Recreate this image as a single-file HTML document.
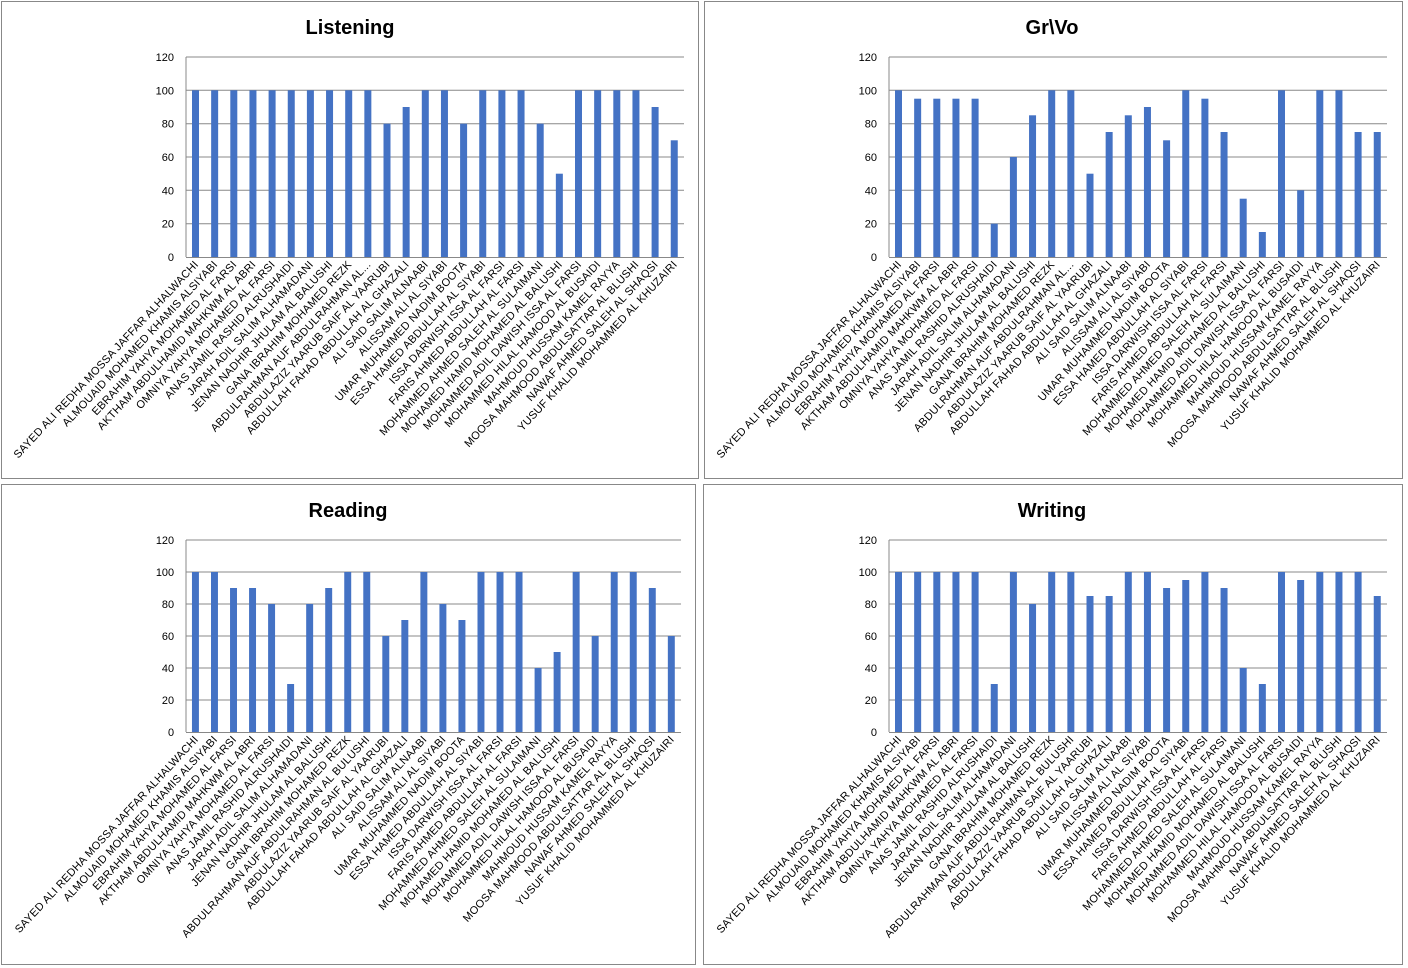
<!DOCTYPE html><html><head><meta charset="utf-8"><style>
body{margin:0;background:#fff;width:1408px;height:968px;overflow:hidden}
svg{display:block;font-family:"Liberation Sans",sans-serif}
.lb text{font-size:11px;letter-spacing:0.25px;text-anchor:end}
.yt{font-size:11px;text-anchor:end}
.tt{font-size:20px;font-weight:bold;text-anchor:middle}
</style></head><body>
<svg width="1408" height="968" xmlns="http://www.w3.org/2000/svg">
<rect x="1.5" y="1.5" width="697" height="477" fill="#fff" stroke="#888"/>
<rect x="704.5" y="1.5" width="698" height="477" fill="#fff" stroke="#888"/>
<rect x="1.5" y="484.5" width="694" height="480" fill="#fff" stroke="#888"/>
<rect x="703.5" y="484.5" width="699" height="480" fill="#fff" stroke="#888"/>
<text class="tt" x="350" y="34">Listening</text>
<text class="tt" x="1052" y="34">Gr\Vo</text>
<text class="tt" x="348" y="517">Reading</text>
<text class="tt" x="1052" y="517">Writing</text>

<!-- Listening -->
<g transform="translate(186,257)">
<g stroke="#888" stroke-width="1"><line x1="0" x2="498" y1="-33.3" y2="-33.3"/><line x1="0" x2="498" y1="-66.7" y2="-66.7"/><line x1="0" x2="498" y1="-100" y2="-100"/><line x1="0" x2="498" y1="-133.3" y2="-133.3"/><line x1="0" x2="498" y1="-166.7" y2="-166.7"/><line x1="0" x2="498" y1="-200" y2="-200"/><line x1="0" x2="0" y1="-200" y2="0"/></g>
<g fill="#4472C4">
<rect x="6" y="-166.7" width="7" height="166.7"/><rect x="25.15" y="-166.7" width="7" height="166.7"/><rect x="44.3" y="-166.7" width="7" height="166.7"/><rect x="63.45" y="-166.7" width="7" height="166.7"/><rect x="82.6" y="-166.7" width="7" height="166.7"/><rect x="101.75" y="-166.7" width="7" height="166.7"/><rect x="120.9" y="-166.7" width="7" height="166.7"/><rect x="140.05" y="-166.7" width="7" height="166.7"/><rect x="159.2" y="-166.7" width="7" height="166.7"/><rect x="178.35" y="-166.7" width="7" height="166.7"/><rect x="197.5" y="-133.3" width="7" height="133.3"/><rect x="216.65" y="-150" width="7" height="150"/><rect x="235.8" y="-166.7" width="7" height="166.7"/><rect x="254.95" y="-166.7" width="7" height="166.7"/><rect x="274.1" y="-133.3" width="7" height="133.3"/><rect x="293.25" y="-166.7" width="7" height="166.7"/><rect x="312.4" y="-166.7" width="7" height="166.7"/><rect x="331.55" y="-166.7" width="7" height="166.7"/><rect x="350.7" y="-133.3" width="7" height="133.3"/><rect x="369.85" y="-83.3" width="7" height="83.3"/><rect x="389" y="-166.7" width="7" height="166.7"/><rect x="408.15" y="-166.7" width="7" height="166.7"/><rect x="427.3" y="-166.7" width="7" height="166.7"/><rect x="446.45" y="-166.7" width="7" height="166.7"/><rect x="465.6" y="-150" width="7" height="150"/><rect x="484.75" y="-116.7" width="7" height="116.7"/>
</g>
<line x1="0" x2="498" y1="0.5" y2="0.5" stroke="#888"/>
<g class="yt"><text x="-12" y="4">0</text><text x="-12" y="-29.3">20</text><text x="-12" y="-62.7">40</text><text x="-12" y="-96">60</text><text x="-12" y="-129.3">80</text><text x="-12" y="-162.7">100</text><text x="-12" y="-196">120</text></g>
<g class="lb">
<text transform="translate(13,8) rotate(-47)">SAYED ALI REDHA MOSSA JAFFAR ALHALWACHI</text>
<text transform="translate(32.15,8) rotate(-47)">ALMOUAID MOHAMED KHAMIS ALSIYABI</text>
<text transform="translate(51.3,8) rotate(-47)">EBRAHIM YAHYA MOHAMED AL FARSI</text>
<text transform="translate(70.45,8) rotate(-47)">AKTHAM ABDULHAMID MAHKWM AL ABRI</text>
<text transform="translate(89.6,8) rotate(-47)">OMNIYA YAHYA MOHAMED AL FARSI</text>
<text transform="translate(108.75,8) rotate(-47)">ANAS JAMIL RASHID ALRUSHAIDI</text>
<text transform="translate(127.9,8) rotate(-47)">JARAH ADIL SALIM ALHAMADANI</text>
<text transform="translate(147.05,8) rotate(-47)">JENAN NADHIR JHULAM AL BALUSHI</text>
<text transform="translate(166.2,8) rotate(-47)">GANA IBRAHIM MOHAMED REZK</text>
<text transform="translate(185.35,8) rotate(-47)">ABDULRAHMAN AUF ABDULRAHMAN AL...</text>
<text transform="translate(204.5,8) rotate(-47)">ABDULAZIZ YAARUB SAIF AL YAARUBI</text>
<text transform="translate(223.65,8) rotate(-47)">ABDULLAH FAHAD ABDULLAH AL GHAZALI</text>
<text transform="translate(242.8,8) rotate(-47)">ALI SAID SALIM ALNAABI</text>
<text transform="translate(261.95,8) rotate(-47)">ALISSAM ALI AL SIYABI</text>
<text transform="translate(281.1,8) rotate(-47)">UMAR MUHAMMED NADIM BOOTA</text>
<text transform="translate(300.25,8) rotate(-47)">ESSA HAMED ABDULLAH AL SIYABI</text>
<text transform="translate(319.4,8) rotate(-47)">ISSA DARWISH ISSA AL FARSI</text>
<text transform="translate(338.55,8) rotate(-47)">FARIS AHMED ABDULLAH AL FARSI</text>
<text transform="translate(357.7,8) rotate(-47)">MOHAMMED AHMED SALEH AL SULAIMANI</text>
<text transform="translate(376.85,8) rotate(-47)">MOHAMED HAMID MOHAMED AL BALUSHI</text>
<text transform="translate(396,8) rotate(-47)">MOHAMMED ADIL DAWISH ISSA AL FARSI</text>
<text transform="translate(415.15,8) rotate(-47)">MOHAMMED HILAL HAMOOD AL BUSAIDI</text>
<text transform="translate(434.3,8) rotate(-47)">MAHMOUD HUSSAM KAMEL RAYYA</text>
<text transform="translate(453.45,8) rotate(-47)">MOOSA MAHMOOD ABDULSATTAR AL BLUSHI</text>
<text transform="translate(472.6,8) rotate(-47)">NAWAF AHMED SALEH AL SHAQSI</text>
<text transform="translate(491.75,8) rotate(-47)">YUSUF KHALID MOHAMMED AL KHUZAIRI</text>
</g>
</g>

<!-- Gr\Vo -->
<g transform="translate(889,257)">
<g stroke="#888" stroke-width="1"><line x1="0" x2="498" y1="-33.3" y2="-33.3"/><line x1="0" x2="498" y1="-66.7" y2="-66.7"/><line x1="0" x2="498" y1="-100" y2="-100"/><line x1="0" x2="498" y1="-133.3" y2="-133.3"/><line x1="0" x2="498" y1="-166.7" y2="-166.7"/><line x1="0" x2="498" y1="-200" y2="-200"/><line x1="0" x2="0" y1="-200" y2="0"/></g>
<g fill="#4472C4">
<rect x="6" y="-166.7" width="7" height="166.7"/><rect x="25.15" y="-158.3" width="7" height="158.3"/><rect x="44.3" y="-158.3" width="7" height="158.3"/><rect x="63.45" y="-158.3" width="7" height="158.3"/><rect x="82.6" y="-158.3" width="7" height="158.3"/><rect x="101.75" y="-33.3" width="7" height="33.3"/><rect x="120.9" y="-100" width="7" height="100"/><rect x="140.05" y="-141.7" width="7" height="141.7"/><rect x="159.2" y="-166.7" width="7" height="166.7"/><rect x="178.35" y="-166.7" width="7" height="166.7"/><rect x="197.5" y="-83.3" width="7" height="83.3"/><rect x="216.65" y="-125" width="7" height="125"/><rect x="235.8" y="-141.7" width="7" height="141.7"/><rect x="254.95" y="-150" width="7" height="150"/><rect x="274.1" y="-116.7" width="7" height="116.7"/><rect x="293.25" y="-166.7" width="7" height="166.7"/><rect x="312.4" y="-158.3" width="7" height="158.3"/><rect x="331.55" y="-125" width="7" height="125"/><rect x="350.7" y="-58.3" width="7" height="58.3"/><rect x="369.85" y="-25" width="7" height="25"/><rect x="389" y="-166.7" width="7" height="166.7"/><rect x="408.15" y="-66.7" width="7" height="66.7"/><rect x="427.3" y="-166.7" width="7" height="166.7"/><rect x="446.45" y="-166.7" width="7" height="166.7"/><rect x="465.6" y="-125" width="7" height="125"/><rect x="484.75" y="-125" width="7" height="125"/>
</g>
<line x1="0" x2="498" y1="0.5" y2="0.5" stroke="#888"/>
<g class="yt"><text x="-12" y="4">0</text><text x="-12" y="-29.3">20</text><text x="-12" y="-62.7">40</text><text x="-12" y="-96">60</text><text x="-12" y="-129.3">80</text><text x="-12" y="-162.7">100</text><text x="-12" y="-196">120</text></g>
<g class="lb">
<text transform="translate(13,8) rotate(-47)">SAYED ALI REDHA MOSSA JAFFAR ALHALWACHI</text>
<text transform="translate(32.15,8) rotate(-47)">ALMOUAID MOHAMED KHAMIS ALSIYABI</text>
<text transform="translate(51.3,8) rotate(-47)">EBRAHIM YAHYA MOHAMED AL FARSI</text>
<text transform="translate(70.45,8) rotate(-47)">AKTHAM ABDULHAMID MAHKWM AL ABRI</text>
<text transform="translate(89.6,8) rotate(-47)">OMNIYA YAHYA MOHAMED AL FARSI</text>
<text transform="translate(108.75,8) rotate(-47)">ANAS JAMIL RASHID ALRUSHAIDI</text>
<text transform="translate(127.9,8) rotate(-47)">JARAH ADIL SALIM ALHAMADANI</text>
<text transform="translate(147.05,8) rotate(-47)">JENAN NADHIR JHULAM AL BALUSHI</text>
<text transform="translate(166.2,8) rotate(-47)">GANA IBRAHIM MOHAMED REZK</text>
<text transform="translate(185.35,8) rotate(-47)">ABDULRAHMAN AUF ABDULRAHMAN AL...</text>
<text transform="translate(204.5,8) rotate(-47)">ABDULAZIZ YAARUB SAIF AL YAARUBI</text>
<text transform="translate(223.65,8) rotate(-47)">ABDULLAH FAHAD ABDULLAH AL GHAZALI</text>
<text transform="translate(242.8,8) rotate(-47)">ALI SAID SALIM ALNAABI</text>
<text transform="translate(261.95,8) rotate(-47)">ALISSAM ALI AL SIYABI</text>
<text transform="translate(281.1,8) rotate(-47)">UMAR MUHAMMED NADIM BOOTA</text>
<text transform="translate(300.25,8) rotate(-47)">ESSA HAMED ABDULLAH AL SIYABI</text>
<text transform="translate(319.4,8) rotate(-47)">ISSA DARWISH ISSA AL FARSI</text>
<text transform="translate(338.55,8) rotate(-47)">FARIS AHMED ABDULLAH AL FARSI</text>
<text transform="translate(357.7,8) rotate(-47)">MOHAMMED AHMED SALEH AL SULAIMANI</text>
<text transform="translate(376.85,8) rotate(-47)">MOHAMED HAMID MOHAMED AL BALUSHI</text>
<text transform="translate(396,8) rotate(-47)">MOHAMMED ADIL DAWISH ISSA AL FARSI</text>
<text transform="translate(415.15,8) rotate(-47)">MOHAMMED HILAL HAMOOD AL BUSAIDI</text>
<text transform="translate(434.3,8) rotate(-47)">MAHMOUD HUSSAM KAMEL RAYYA</text>
<text transform="translate(453.45,8) rotate(-47)">MOOSA MAHMOOD ABDULSATTAR AL BLUSHI</text>
<text transform="translate(472.6,8) rotate(-47)">NAWAF AHMED SALEH AL SHAQSI</text>
<text transform="translate(491.75,8) rotate(-47)">YUSUF KHALID MOHAMMED AL KHUZAIRI</text>
</g>
</g>

<!-- Reading -->
<g transform="translate(186,732) scale(0.994,1)">
<g stroke="#888" stroke-width="1"><line x1="0" x2="498" y1="-32" y2="-32"/><line x1="0" x2="498" y1="-64" y2="-64"/><line x1="0" x2="498" y1="-96" y2="-96"/><line x1="0" x2="498" y1="-128" y2="-128"/><line x1="0" x2="498" y1="-160" y2="-160"/><line x1="0" x2="498" y1="-192" y2="-192"/><line x1="0" x2="0" y1="-192" y2="0"/></g>
<g fill="#4472C4">
<rect x="6" y="-160" width="7" height="160"/><rect x="25.15" y="-160" width="7" height="160"/><rect x="44.3" y="-144" width="7" height="144"/><rect x="63.45" y="-144" width="7" height="144"/><rect x="82.6" y="-128" width="7" height="128"/><rect x="101.75" y="-48" width="7" height="48"/><rect x="120.9" y="-128" width="7" height="128"/><rect x="140.05" y="-144" width="7" height="144"/><rect x="159.2" y="-160" width="7" height="160"/><rect x="178.35" y="-160" width="7" height="160"/><rect x="197.5" y="-96" width="7" height="96"/><rect x="216.65" y="-112" width="7" height="112"/><rect x="235.8" y="-160" width="7" height="160"/><rect x="254.95" y="-128" width="7" height="128"/><rect x="274.1" y="-112" width="7" height="112"/><rect x="293.25" y="-160" width="7" height="160"/><rect x="312.4" y="-160" width="7" height="160"/><rect x="331.55" y="-160" width="7" height="160"/><rect x="350.7" y="-64" width="7" height="64"/><rect x="369.85" y="-80" width="7" height="80"/><rect x="389" y="-160" width="7" height="160"/><rect x="408.15" y="-96" width="7" height="96"/><rect x="427.3" y="-160" width="7" height="160"/><rect x="446.45" y="-160" width="7" height="160"/><rect x="465.6" y="-144" width="7" height="144"/><rect x="484.75" y="-96" width="7" height="96"/>
</g>
<line x1="0" x2="498" y1="0.5" y2="0.5" stroke="#888"/>
<g class="yt"><text x="-12" y="4">0</text><text x="-12" y="-28">20</text><text x="-12" y="-60">40</text><text x="-12" y="-92">60</text><text x="-12" y="-124">80</text><text x="-12" y="-156">100</text><text x="-12" y="-188">120</text></g>
<g class="lb">
<text transform="translate(13,8) rotate(-47)">SAYED ALI REDHA MOSSA JAFFAR ALHALWACHI</text>
<text transform="translate(32.15,8) rotate(-47)">ALMOUAID MOHAMED KHAMIS ALSIYABI</text>
<text transform="translate(51.3,8) rotate(-47)">EBRAHIM YAHYA MOHAMED AL FARSI</text>
<text transform="translate(70.45,8) rotate(-47)">AKTHAM ABDULHAMID MAHKWM AL ABRI</text>
<text transform="translate(89.6,8) rotate(-47)">OMNIYA YAHYA MOHAMED AL FARSI</text>
<text transform="translate(108.75,8) rotate(-47)">ANAS JAMIL RASHID ALRUSHAIDI</text>
<text transform="translate(127.9,8) rotate(-47)">JARAH ADIL SALIM ALHAMADANI</text>
<text transform="translate(147.05,8) rotate(-47)">JENAN NADHIR JHULAM AL BALUSHI</text>
<text transform="translate(166.2,8) rotate(-47)">GANA IBRAHIM MOHAMED REZK</text>
<text transform="translate(185.35,8) rotate(-47)">ABDULRAHMAN AUF ABDULRAHMAN AL BULUSHI</text>
<text transform="translate(204.5,8) rotate(-47)">ABDULAZIZ YAARUB SAIF AL YAARUBI</text>
<text transform="translate(223.65,8) rotate(-47)">ABDULLAH FAHAD ABDULLAH AL GHAZALI</text>
<text transform="translate(242.8,8) rotate(-47)">ALI SAID SALIM ALNAABI</text>
<text transform="translate(261.95,8) rotate(-47)">ALISSAM ALI AL SIYABI</text>
<text transform="translate(281.1,8) rotate(-47)">UMAR MUHAMMED NADIM BOOTA</text>
<text transform="translate(300.25,8) rotate(-47)">ESSA HAMED ABDULLAH AL SIYABI</text>
<text transform="translate(319.4,8) rotate(-47)">ISSA DARWISH ISSA AL FARSI</text>
<text transform="translate(338.55,8) rotate(-47)">FARIS AHMED ABDULLAH AL FARSI</text>
<text transform="translate(357.7,8) rotate(-47)">MOHAMMED AHMED SALEH AL SULAIMANI</text>
<text transform="translate(376.85,8) rotate(-47)">MOHAMED HAMID MOHAMED AL BALUSHI</text>
<text transform="translate(396,8) rotate(-47)">MOHAMMED ADIL DAWISH ISSA AL FARSI</text>
<text transform="translate(415.15,8) rotate(-47)">MOHAMMED HILAL HAMOOD AL BUSAIDI</text>
<text transform="translate(434.3,8) rotate(-47)">MAHMOUD HUSSAM KAMEL RAYYA</text>
<text transform="translate(453.45,8) rotate(-47)">MOOSA MAHMOOD ABDULSATTAR AL BLUSHI</text>
<text transform="translate(472.6,8) rotate(-47)">NAWAF AHMED SALEH AL SHAQSI</text>
<text transform="translate(491.75,8) rotate(-47)">YUSUF KHALID MOHAMMED AL KHUZAIRI</text>
</g>
</g>

<!-- Writing -->
<g transform="translate(889,732)">
<g stroke="#888" stroke-width="1"><line x1="0" x2="498" y1="-32" y2="-32"/><line x1="0" x2="498" y1="-64" y2="-64"/><line x1="0" x2="498" y1="-96" y2="-96"/><line x1="0" x2="498" y1="-128" y2="-128"/><line x1="0" x2="498" y1="-160" y2="-160"/><line x1="0" x2="498" y1="-192" y2="-192"/><line x1="0" x2="0" y1="-192" y2="0"/></g>
<g fill="#4472C4">
<rect x="6" y="-160" width="7" height="160"/><rect x="25.15" y="-160" width="7" height="160"/><rect x="44.3" y="-160" width="7" height="160"/><rect x="63.45" y="-160" width="7" height="160"/><rect x="82.6" y="-160" width="7" height="160"/><rect x="101.75" y="-48" width="7" height="48"/><rect x="120.9" y="-160" width="7" height="160"/><rect x="140.05" y="-128" width="7" height="128"/><rect x="159.2" y="-160" width="7" height="160"/><rect x="178.35" y="-160" width="7" height="160"/><rect x="197.5" y="-136" width="7" height="136"/><rect x="216.65" y="-136" width="7" height="136"/><rect x="235.8" y="-160" width="7" height="160"/><rect x="254.95" y="-160" width="7" height="160"/><rect x="274.1" y="-144" width="7" height="144"/><rect x="293.25" y="-152" width="7" height="152"/><rect x="312.4" y="-160" width="7" height="160"/><rect x="331.55" y="-144" width="7" height="144"/><rect x="350.7" y="-64" width="7" height="64"/><rect x="369.85" y="-48" width="7" height="48"/><rect x="389" y="-160" width="7" height="160"/><rect x="408.15" y="-152" width="7" height="152"/><rect x="427.3" y="-160" width="7" height="160"/><rect x="446.45" y="-160" width="7" height="160"/><rect x="465.6" y="-160" width="7" height="160"/><rect x="484.75" y="-136" width="7" height="136"/>
</g>
<line x1="0" x2="498" y1="0.5" y2="0.5" stroke="#888"/>
<g class="yt"><text x="-12" y="4">0</text><text x="-12" y="-28">20</text><text x="-12" y="-60">40</text><text x="-12" y="-92">60</text><text x="-12" y="-124">80</text><text x="-12" y="-156">100</text><text x="-12" y="-188">120</text></g>
<g class="lb">
<text transform="translate(13,8) rotate(-47)">SAYED ALI REDHA MOSSA JAFFAR ALHALWACHI</text>
<text transform="translate(32.15,8) rotate(-47)">ALMOUAID MOHAMED KHAMIS ALSIYABI</text>
<text transform="translate(51.3,8) rotate(-47)">EBRAHIM YAHYA MOHAMED AL FARSI</text>
<text transform="translate(70.45,8) rotate(-47)">AKTHAM ABDULHAMID MAHKWM AL ABRI</text>
<text transform="translate(89.6,8) rotate(-47)">OMNIYA YAHYA MOHAMED AL FARSI</text>
<text transform="translate(108.75,8) rotate(-47)">ANAS JAMIL RASHID ALRUSHAIDI</text>
<text transform="translate(127.9,8) rotate(-47)">JARAH ADIL SALIM ALHAMADANI</text>
<text transform="translate(147.05,8) rotate(-47)">JENAN NADHIR JHULAM AL BALUSHI</text>
<text transform="translate(166.2,8) rotate(-47)">GANA IBRAHIM MOHAMED REZK</text>
<text transform="translate(185.35,8) rotate(-47)">ABDULRAHMAN AUF ABDULRAHMAN AL BULUSHI</text>
<text transform="translate(204.5,8) rotate(-47)">ABDULAZIZ YAARUB SAIF AL YAARUBI</text>
<text transform="translate(223.65,8) rotate(-47)">ABDULLAH FAHAD ABDULLAH AL GHAZALI</text>
<text transform="translate(242.8,8) rotate(-47)">ALI SAID SALIM ALNAABI</text>
<text transform="translate(261.95,8) rotate(-47)">ALISSAM ALI AL SIYABI</text>
<text transform="translate(281.1,8) rotate(-47)">UMAR MUHAMMED NADIM BOOTA</text>
<text transform="translate(300.25,8) rotate(-47)">ESSA HAMED ABDULLAH AL SIYABI</text>
<text transform="translate(319.4,8) rotate(-47)">ISSA DARWISH ISSA AL FARSI</text>
<text transform="translate(338.55,8) rotate(-47)">FARIS AHMED ABDULLAH AL FARSI</text>
<text transform="translate(357.7,8) rotate(-47)">MOHAMMED AHMED SALEH AL SULAIMANI</text>
<text transform="translate(376.85,8) rotate(-47)">MOHAMED HAMID MOHAMED AL BALUSHI</text>
<text transform="translate(396,8) rotate(-47)">MOHAMMED ADIL DAWISH ISSA AL FARSI</text>
<text transform="translate(415.15,8) rotate(-47)">MOHAMMED HILAL HAMOOD AL BUSAIDI</text>
<text transform="translate(434.3,8) rotate(-47)">MAHMOUD HUSSAM KAMEL RAYYA</text>
<text transform="translate(453.45,8) rotate(-47)">MOOSA MAHMOOD ABDULSATTAR AL BLUSHI</text>
<text transform="translate(472.6,8) rotate(-47)">NAWAF AHMED SALEH AL SHAQSI</text>
<text transform="translate(491.75,8) rotate(-47)">YUSUF KHALID MOHAMMED AL KHUZAIRI</text>
</g>
</g>
</svg>
</body></html>
